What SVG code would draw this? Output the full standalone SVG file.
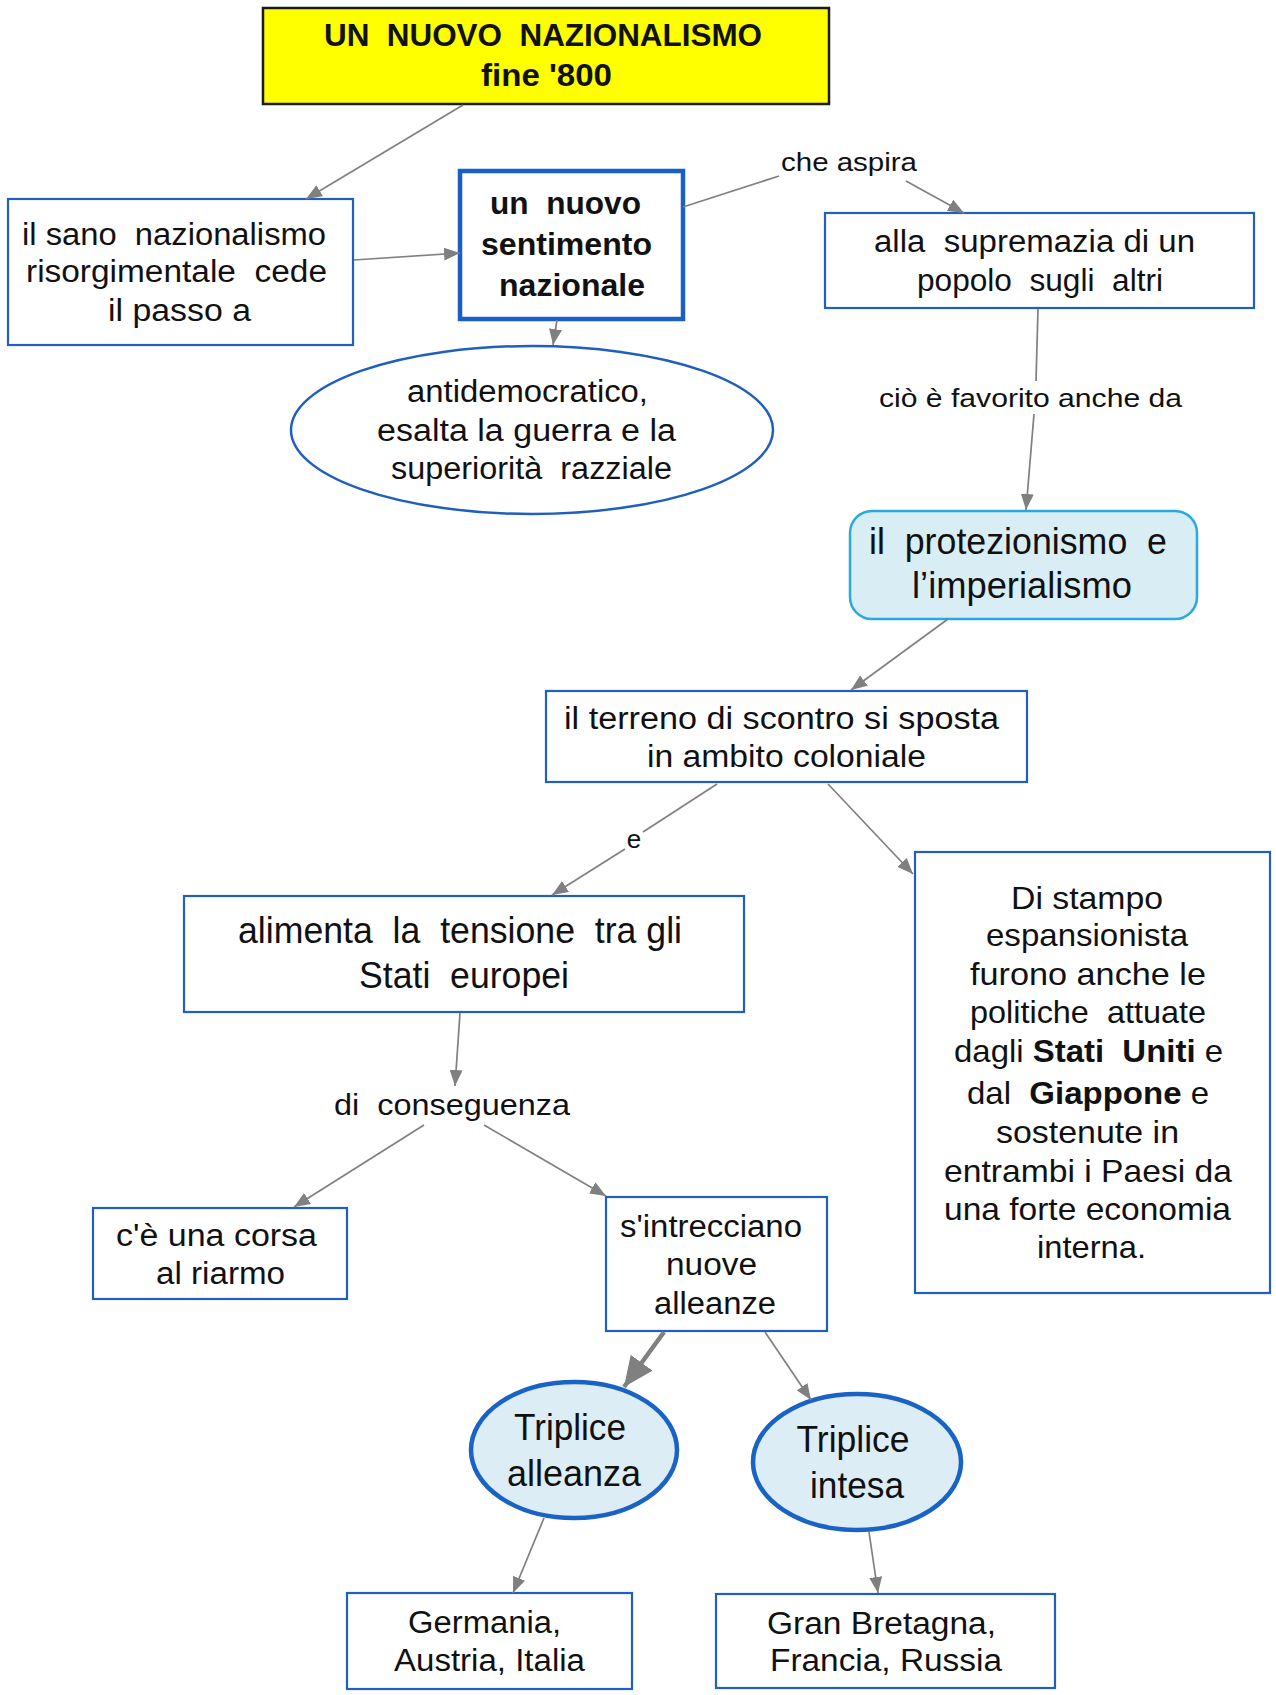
<svg xmlns="http://www.w3.org/2000/svg" width="1276" height="1695" viewBox="0 0 1276 1695">
<defs>
<style>
text{font-family:"Liberation Sans",Arial,sans-serif;fill:#111;text-anchor:middle;dominant-baseline:central;white-space:pre}
.b{font-weight:bold}
.box{fill:#fff;stroke:#1f5fbf;stroke-width:2.2}
.thick{fill:#fff;stroke:#1a5fc4;stroke-width:4.5}
.oval{fill:#fff;stroke:#1f5fbf;stroke-width:2.5}
.circ{fill:#dcedf5;stroke:#1a63c6;stroke-width:4.5}
.round{fill:#d9edf5;stroke:#2aa9e0;stroke-width:2.5}
.title{fill:#ffff00;stroke:#1a1a1a;stroke-width:2.5}
.c{stroke:#808080;stroke-width:1.7;fill:none}
.cb{stroke:#808080;stroke-width:4.5;fill:none}
.f31{font-size:31px}.f26{font-size:26px}.f37{font-size:37px}.f32{font-size:32px}.f36{font-size:36px}.f30{font-size:30px}
</style>
<marker id="ah" markerUnits="userSpaceOnUse" markerWidth="17" markerHeight="13" refX="16" refY="6.5" orient="auto">
<path d="M0,0 L16,6.5 L0,13 z" fill="#808080"/>
</marker>
<marker id="ahb" markerUnits="userSpaceOnUse" markerWidth="31" markerHeight="27" refX="30" refY="13.5" orient="auto">
<path d="M0,0 L30,13.5 L0,27 z" fill="#808080"/>
</marker>
</defs>
<rect width="1276" height="1695" fill="#fff"/>

<g id="n-title">
<rect class="title" x="263" y="8" width="566" height="96"/>
<text class="b f31" x="543" y="35" textLength="438" lengthAdjust="spacingAndGlyphs">UN  NUOVO  NAZIONALISMO</text>
<text class="b f31" x="546.5" y="75" textLength="131" lengthAdjust="spacingAndGlyphs">fine '800</text>
</g>

<g id="n-sano">
<rect class="box" x="8" y="199" width="345" height="146"/>
<text class="f31" x="174" y="234" textLength="304" lengthAdjust="spacingAndGlyphs">il sano  nazionalismo</text>
<text class="f31" x="176.5" y="271" textLength="301" lengthAdjust="spacingAndGlyphs">risorgimentale  cede</text>
<text class="f31" x="179.5" y="310" textLength="143" lengthAdjust="spacingAndGlyphs">il passo a</text>
</g>

<g id="n-sentimento">
<rect class="thick" x="460" y="171" width="223" height="148"/>
<text class="b f31" x="565.5" y="203" textLength="151" lengthAdjust="spacingAndGlyphs">un  nuovo</text>
<text class="b f31" x="566.5" y="244" textLength="171" lengthAdjust="spacingAndGlyphs">sentimento</text>
<text class="b f31" x="572" y="285" textLength="146" lengthAdjust="spacingAndGlyphs">nazionale</text>
</g>

<g id="n-supremazia">
<rect class="box" x="825" y="213" width="429" height="95"/>
<text class="f31" x="1034.5" y="241" textLength="321" lengthAdjust="spacingAndGlyphs">alla  supremazia di un</text>
<text class="f31" x="1040" y="280" textLength="246" lengthAdjust="spacingAndGlyphs">popolo  sugli  altri</text>
</g>

<g id="n-antidemocratico">
<ellipse class="oval" cx="532" cy="430" rx="241" ry="84"/>
<text class="f31" x="527.5" y="391" textLength="241" lengthAdjust="spacingAndGlyphs">antidemocratico,</text>
<text class="f31" x="526.5" y="430" textLength="299" lengthAdjust="spacingAndGlyphs">esalta la guerra e la</text>
<text class="f31" x="531.5" y="468" textLength="281" lengthAdjust="spacingAndGlyphs">superiorità  razziale</text>
</g>

<g id="n-protezionismo">
<rect class="round" x="850" y="511" width="347" height="108" rx="22" ry="22"/>
<text class="f37" x="1018" y="541" textLength="298" lengthAdjust="spacingAndGlyphs">il  protezionismo  e</text>
<text class="f37" x="1022" y="585" textLength="220" lengthAdjust="spacingAndGlyphs">l’imperialismo</text>
</g>

<g id="n-terreno">
<rect class="box" x="546" y="691" width="481" height="91"/>
<text class="f31" x="781.5" y="718" textLength="435" lengthAdjust="spacingAndGlyphs">il terreno di scontro si sposta</text>
<text class="f31" x="786.5" y="756" textLength="279" lengthAdjust="spacingAndGlyphs">in ambito coloniale</text>
</g>

<g id="n-alimenta">
<rect class="box" x="184" y="896" width="560" height="116"/>
<text class="f37" x="460" y="930" textLength="444" lengthAdjust="spacingAndGlyphs">alimenta  la  tensione  tra gli</text>
<text class="f37" x="464" y="975" textLength="210" lengthAdjust="spacingAndGlyphs">Stati  europei</text>
</g>

<g id="n-stampo">
<rect class="box" x="915" y="852" width="355" height="441"/>
<text class="f32" x="1087" y="898" textLength="152" lengthAdjust="spacingAndGlyphs">Di stampo</text>
<text class="f32" x="1087" y="935" textLength="202" lengthAdjust="spacingAndGlyphs">espansionista</text>
<text class="f32" x="1088" y="974" textLength="236" lengthAdjust="spacingAndGlyphs">furono anche le</text>
<text class="f32" x="1088" y="1012" textLength="236" lengthAdjust="spacingAndGlyphs">politiche  attuate</text>
<text class="f32" x="1088.5" y="1051" textLength="269" lengthAdjust="spacingAndGlyphs">dagli <tspan class="b">Stati  Uniti</tspan> e</text>
<text class="f32" x="1088" y="1093" textLength="242" lengthAdjust="spacingAndGlyphs">dal  <tspan class="b">Giappone</tspan> e</text>
<text class="f32" x="1087.5" y="1132" textLength="183" lengthAdjust="spacingAndGlyphs">sostenute in</text>
<text class="f32" x="1088" y="1171" textLength="288" lengthAdjust="spacingAndGlyphs">entrambi i Paesi da</text>
<text class="f32" x="1087.5" y="1209" textLength="287" lengthAdjust="spacingAndGlyphs">una forte economia</text>
<text class="f32" x="1091.5" y="1247" textLength="109" lengthAdjust="spacingAndGlyphs">interna.</text>
</g>

<g id="n-riarmo">
<rect class="box" x="93" y="1208" width="254" height="91"/>
<text class="f31" x="216.5" y="1235" textLength="201" lengthAdjust="spacingAndGlyphs">c'è una corsa</text>
<text class="f31" x="220.5" y="1273" textLength="129" lengthAdjust="spacingAndGlyphs">al riarmo</text>
</g>

<g id="n-intrecciano">
<rect class="box" x="606" y="1197" width="221" height="134"/>
<text class="f31" x="711" y="1226" textLength="182" lengthAdjust="spacingAndGlyphs">s'intrecciano</text>
<text class="f31" x="711.5" y="1264" textLength="91" lengthAdjust="spacingAndGlyphs">nuove</text>
<text class="f31" x="715" y="1303" textLength="122" lengthAdjust="spacingAndGlyphs">alleanze</text>
</g>

<g id="n-alleanza">
<ellipse class="circ" cx="574" cy="1450" rx="103" ry="68"/>
<text class="f36" x="570" y="1427" textLength="112" lengthAdjust="spacingAndGlyphs">Triplice</text>
<text class="f36" x="574" y="1473" textLength="134" lengthAdjust="spacingAndGlyphs">alleanza</text>
</g>

<g id="n-intesa">
<ellipse class="circ" cx="857" cy="1462" rx="104" ry="68"/>
<text class="f36" x="853" y="1439" textLength="113" lengthAdjust="spacingAndGlyphs">Triplice</text>
<text class="f36" x="857" y="1485" textLength="94" lengthAdjust="spacingAndGlyphs">intesa</text>
</g>

<g id="n-germania">
<rect class="box" x="347" y="1593" width="285" height="96"/>
<text class="f31" x="484.5" y="1622" textLength="153" lengthAdjust="spacingAndGlyphs">Germania,</text>
<text class="f31" x="489.5" y="1660" textLength="191" lengthAdjust="spacingAndGlyphs">Austria, Italia</text>
</g>

<g id="n-granbretagna">
<rect class="box" x="716" y="1594" width="339" height="94"/>
<text class="f31" x="881.5" y="1623" textLength="229" lengthAdjust="spacingAndGlyphs">Gran Bretagna,</text>
<text class="f31" x="886" y="1660" textLength="232" lengthAdjust="spacingAndGlyphs">Francia, Russia</text>
</g>

<g id="connectors">
<line class="c" x1="463" y1="105" x2="306" y2="199" marker-end="url(#ah)"/>
<line class="c" x1="354" y1="260" x2="460" y2="253" marker-end="url(#ah)"/>
<line class="c" x1="683" y1="207" x2="779" y2="176"/>
<text class="f26" x="849" y="162" textLength="136" lengthAdjust="spacingAndGlyphs">che aspira</text>
<line class="c" x1="906" y1="181" x2="964" y2="213" marker-end="url(#ah)"/>
<line class="c" x1="557" y1="320" x2="553" y2="345" marker-end="url(#ah)"/>
<line class="c" x1="1038" y1="309" x2="1036" y2="381"/>
<text class="f26" x="1030.5" y="398" textLength="303" lengthAdjust="spacingAndGlyphs">ciò è favorito anche da</text>
<line class="c" x1="1034" y1="414" x2="1026" y2="510" marker-end="url(#ah)"/>
<line class="c" x1="948" y1="619" x2="851" y2="690" marker-end="url(#ah)"/>
<line class="c" x1="717" y1="784" x2="643" y2="832"/>
<text class="f26" x="634" y="839">e</text>
<line class="c" x1="625" y1="849" x2="552" y2="895" marker-end="url(#ah)"/>
<line class="c" x1="828" y1="784" x2="913" y2="874" marker-end="url(#ah)"/>
<line class="c" x1="460" y1="1013" x2="455" y2="1086" marker-end="url(#ah)"/>
<text class="f30" x="452" y="1104" textLength="236" lengthAdjust="spacingAndGlyphs">di  conseguenza</text>
<line class="c" x1="424" y1="1125" x2="294" y2="1207" marker-end="url(#ah)"/>
<line class="c" x1="484" y1="1125" x2="606" y2="1196" marker-end="url(#ah)"/>
<line class="cb" x1="664" y1="1332" x2="624" y2="1387" marker-end="url(#ahb)"/>
<line class="c" x1="765" y1="1332" x2="811" y2="1400" marker-end="url(#ah)"/>
<line class="c" x1="544" y1="1518" x2="513" y2="1593" marker-end="url(#ah)"/>
<line class="c" x1="869" y1="1532" x2="878" y2="1593" marker-end="url(#ah)"/>
</g>
</svg>
